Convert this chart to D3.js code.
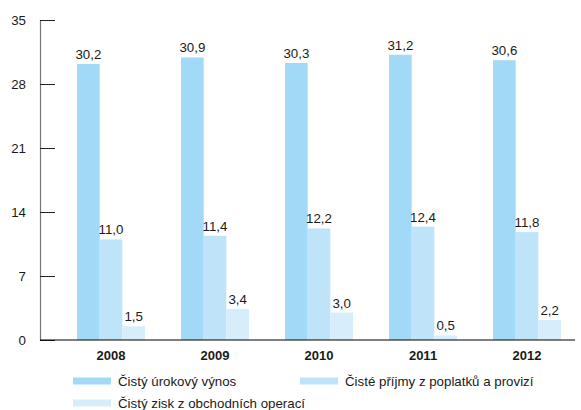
<!DOCTYPE html>
<html>
<head>
<meta charset="utf-8">
<script src="https://cdn.jsdelivr.net/npm/d3@7"></script>
<style>
  html, body { margin: 0; padding: 0; background: #fff; }
  text { font-family: "Liberation Sans", Arial, sans-serif; fill: #1a1a1a; }
</style>
</head>
<body>
<svg id="chart" width="581" height="410"></svg>
<script>
// Values (mld. Kč) per year
const years = ["2008", "2009", "2010", "2011", "2012"];
const seriesNames = [
  "Čistý úrokový výnos",
  "Čisté příjmy z poplatků a provizí",
  "Čistý zisk z obchodních operací"
];
const urokovyVynos = [30.2, 30.9, 30.3, 31.2, 30.6];
const poplatkyProvize = [11.0, 11.4, 12.2, 12.4, 11.8];
const obchodniOperace = [1.5, 3.4, 3.0, 0.5, 2.2];
const yTicks = [0, 7, 14, 21, 28, 35];
const colors = ["#a1d9f6", "#bfe4f9", "#d7edfb"];

const series = [urokovyVynos, poplatkyProvize, obchodniOperace];

const svg = d3.select("#chart");
const fmt = v => d3.format(".1f")(v).replace(".", ",");

const x0 = d3.scaleBand().domain(years).range([59, 579])
  .paddingInner(0.346).paddingOuter(0.173);
const x1 = d3.scaleBand().domain(d3.range(series.length)).range([0, x0.bandwidth()]);
const y = d3.scaleLinear().domain([0, 35]).range([340, 20]);

// bars
const groups = svg.append("g").selectAll("g").data(years).join("g")
  .attr("transform", d => `translate(${x0(d)},0)`);

groups.selectAll("rect")
  .data((d, i) => series.map((s, k) => ({ k, v: s[i] })))
  .join("rect")
  .attr("x", d => x1(d.k))
  .attr("width", x1.bandwidth())
  .attr("y", d => y(d.v))
  .attr("height", d => y(0) - y(d.v))
  .attr("fill", d => colors[d.k]);

groups.selectAll("text.val")
  .data((d, i) => series.map((s, k) => ({ k, v: s[i] })))
  .join("text")
  .attr("class", "val")
  .attr("x", d => x1(d.k) + x1.bandwidth() / 2)
  .attr("y", d => y(d.v) - 5)
  .attr("text-anchor", "middle")
  .attr("font-size", 13.3)
  .text(d => fmt(d.v));

// y axis
const yAxis = svg.append("g").attr("transform", "translate(40,0)")
  .call(d3.axisRight(y).tickValues(yTicks).tickSize(15).tickFormat(d => ""));
yAxis.select(".domain").attr("stroke", "#777").attr("stroke-width", 1.2);
yAxis.selectAll(".tick line").attr("stroke", "#222");

svg.append("g").selectAll("text").data(yTicks).join("text")
  .attr("x", 26).attr("y", d => y(d) + 5)
  .attr("text-anchor", "end").attr("font-size", 13.3)
  .text(d => d);

// x axis baseline
const xAxis = svg.append("g").attr("transform", `translate(0,${y(0)})`)
  .call(d3.axisBottom(x0).tickSize(0).tickPadding(11));
xAxis.select(".domain").attr("d", "M40,0H575").attr("stroke", "#000").attr("stroke-width", 1.2);
xAxis.selectAll(".tick text")
  .attr("font-size", 13).attr("font-weight", "bold")
  .attr("font-family", "Liberation Sans, Arial, sans-serif").attr("fill", "#1a1a1a");

// legend
const legendPos = [[73, 381], [300, 381], [73, 403]];
const legend = svg.append("g").selectAll("g").data(seriesNames).join("g")
  .attr("transform", (d, i) => `translate(${legendPos[i][0]},${legendPos[i][1]})`);
legend.append("rect").attr("x", 0).attr("y", -3.5).attr("width", 38).attr("height", 7)
  .attr("fill", (d, i) => colors[i]);
legend.append("text").attr("x", 45).attr("y", 4.5).attr("font-size", 13.3).text(d => d);
</script>
</body>
</html>
